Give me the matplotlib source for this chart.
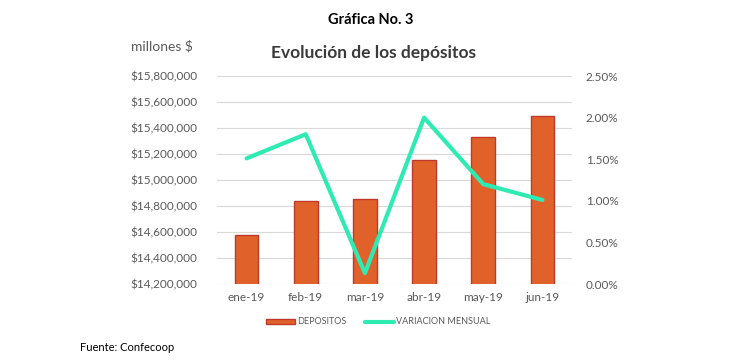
import numpy as np
import matplotlib.pyplot as plt
from matplotlib.ticker import FuncFormatter

# data
meses = ['ene-19', 'feb-19', 'mar-19', 'abr-19', 'may-19', 'jun-19']
depositos = [14577000, 14841000, 14854000, 15154000, 15333000, 15492000]
variacion = [1.51, 1.80, 0.13, 2.00, 1.20, 1.01]  # %

plt.rcParams['font.family'] = ['Lato', 'DejaVu Sans']
gris = '#595959'

fig = plt.figure(figsize=(7.49, 3.63), dpi=100)
ax = fig.add_axes([0.2897, 0.2176, 0.474, 0.573])
x = np.arange(len(meses))

ax.bar(x, depositos, width=0.4, color='#E0622A', edgecolor='#C0392B',
       linewidth=1.0, label='DEPOSITOS', zorder=2)
ax.set_ylim(14200000, 15800000)
ax.set_yticks(np.arange(14200000, 15800001, 200000))
ax.yaxis.set_major_formatter(FuncFormatter(lambda v, p: '${:,.0f}'.format(v)))
ax.set_xlim(-0.5, len(meses) - 0.5)
ax.set_xticks(x)
ax.set_xticklabels(meses)
ax.grid(axis='y', color='#D9D9D9', linewidth=0.8, zorder=0)
ax.set_axisbelow(True)
for s in ax.spines.values():
    s.set_visible(False)
ax.tick_params(length=0, labelsize=8.5, labelcolor=gris, pad=14)
ax.tick_params(axis='x', pad=6)

ax2 = ax.twinx()
ax2.plot(x, variacion, color='#2EEBB4', linewidth=3, label='VARIACION MENSUAL',
         solid_capstyle='round', zorder=3)
ax2.set_ylim(0, 2.5)
ax2.set_yticks(np.arange(0, 2.51, 0.5))
ax2.yaxis.set_major_formatter(FuncFormatter(lambda v, p: '{:.2f}%'.format(v)))
for s in ax2.spines.values():
    s.set_visible(False)
ax2.tick_params(length=0, labelsize=8.5, labelcolor=gris, pad=10)

h1, l1 = ax.get_legend_handles_labels()
h2, l2 = ax2.get_legend_handles_labels()
fig.legend(h1 + h2, l1 + l2, loc='center', bbox_to_anchor=(0.505, 0.113),
           ncol=2, frameon=False, fontsize=6.5, labelcolor=gris,
           handlelength=3.2, handleheight=0.5, columnspacing=2.0, handletextpad=0.3)

fig.text(0.495, 0.945, 'Gráfica No. 3', ha='center', va='center',
         fontsize=10.5, fontweight='bold', color='black')
fig.text(0.499, 0.853, 'Evolución de los depósitos', ha='center', va='center',
         fontsize=12.5, fontweight='bold', color='#3A3A3A')
fig.text(0.175, 0.872, 'millones $', ha='left', va='center', fontsize=10, color=gris)
fig.text(0.107, 0.042, 'Fuente: Confecoop', ha='left', va='center', fontsize=8, color='black')

fig.savefig('out.png', dpi=100)
